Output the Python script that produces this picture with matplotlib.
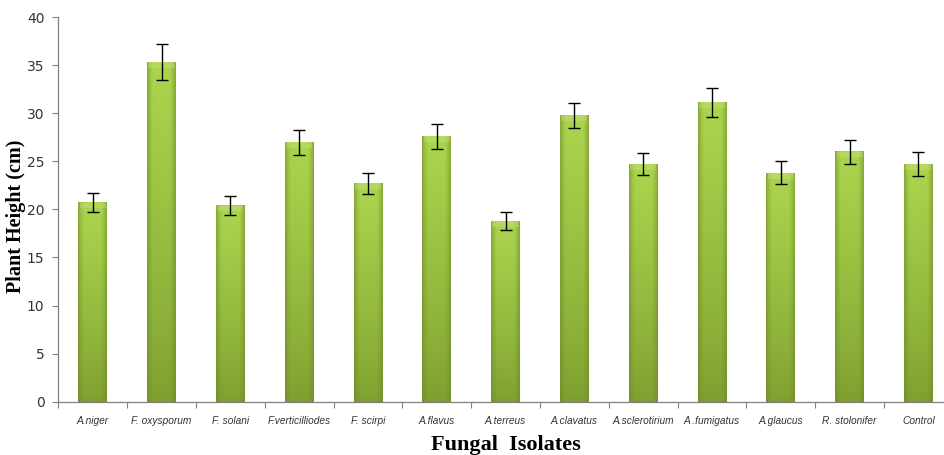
import matplotlib.pyplot as plt
import numpy as np
from matplotlib.colors import to_rgb

# isolates and mean plant height (cm) with standard error
isolates = ['A.niger', 'F. oxysporum', 'F. solani', 'F.verticilliodes', 'F. scirpi',
            'A.flavus', 'A.terreus', 'A.clavatus', 'A.sclerotirium', 'A .fumigatus',
            'A.glaucus', 'R. stolonifer', 'Control']
height = [20.7, 35.35, 20.4, 27.0, 22.7, 27.6, 18.8, 29.8, 24.7, 31.15, 23.8, 26.0, 24.7]
err = [0.95, 1.85, 1.0, 1.3, 1.1, 1.3, 0.95, 1.3, 1.15, 1.5, 1.2, 1.25, 1.25]

fig = plt.figure(figsize=(9.44, 4.55), dpi=100)
ax = fig.add_axes([0.0618, 0.1171, 0.9475, 0.8455])

x = np.arange(len(isolates))
w = 0.42

# shaded fill for each bar: lighter at the top and centre, darker at the sides and bottom
top_c = np.array(to_rgb('#acd54e'))
bot_c = np.array(to_rgb('#7d9f2f'))
edge_c = np.array(to_rgb('#6a8526'))
ny, nx = 200, 40
t = np.linspace(0, 1, ny)[:, None, None]          # 0 bottom, 1 top
s = np.abs(np.linspace(-1, 1, nx))[None, :, None]  # 0 centre, 1 edge
base = bot_c + (top_c - bot_c) * t ** 0.8
side = np.clip((s - 0.55) / 0.45, 0, 1) ** 1.5
grad = base * (1 - 0.55 * side) + edge_c * 0.55 * side
grad = np.clip(grad, 0, 1)

bars = ax.bar(x, height, width=w, color='none', edgecolor='none', zorder=2)
for b in bars:
    x0 = b.get_x()
    h = b.get_height()
    ax.imshow(grad, origin='lower', aspect='auto', interpolation='bilinear',
              extent=(x0, x0 + b.get_width(), 0, h), zorder=2)
    # highlight cap at the top
    ax.fill_between([x0 + 0.02, x0 + b.get_width() - 0.02], h - 0.6, h,
                    color='#c4e27a', alpha=0.4, lw=0, zorder=3)

ax.errorbar(x, height, yerr=err, fmt='none', ecolor='black', elinewidth=1.0,
            capsize=4, capthick=1.0, zorder=4)

ax.set_xlim(-0.5, len(isolates) - 0.5)
ax.set_ylim(0, 40)
ax.set_yticks(np.arange(0, 41, 5))
ax.set_xticks(x)
ax.set_xticklabels(isolates, fontsize=7.3, style='italic', family='Liberation Sans',
                   color='#333333')
ax.set_xticks(np.arange(-0.5, len(isolates)), minor=True)
ax.tick_params(axis='x', which='major', length=0, pad=10)
ax.tick_params(axis='x', which='minor', length=4, color='#808080', width=0.8)
ax.tick_params(axis='y', length=4, color='#808080', width=0.8, labelsize=10,
               labelcolor='#333333', pad=6)

for side_name in ['top', 'right']:
    ax.spines[side_name].set_visible(False)
for side_name in ['left', 'bottom']:
    ax.spines[side_name].set_color('#808080')
    ax.spines[side_name].set_linewidth(0.9)

ax.set_ylabel('Plant Height (cm)', fontsize=14.5, fontweight='bold',
              family='Liberation Serif')
ax.yaxis.set_label_coords(-0.036, 0.483)
ax.set_xlabel('Fungal  Isolates', fontsize=16, fontweight='bold',
              family='Liberation Serif', labelpad=7)

plt.savefig('out.png', dpi=100)
